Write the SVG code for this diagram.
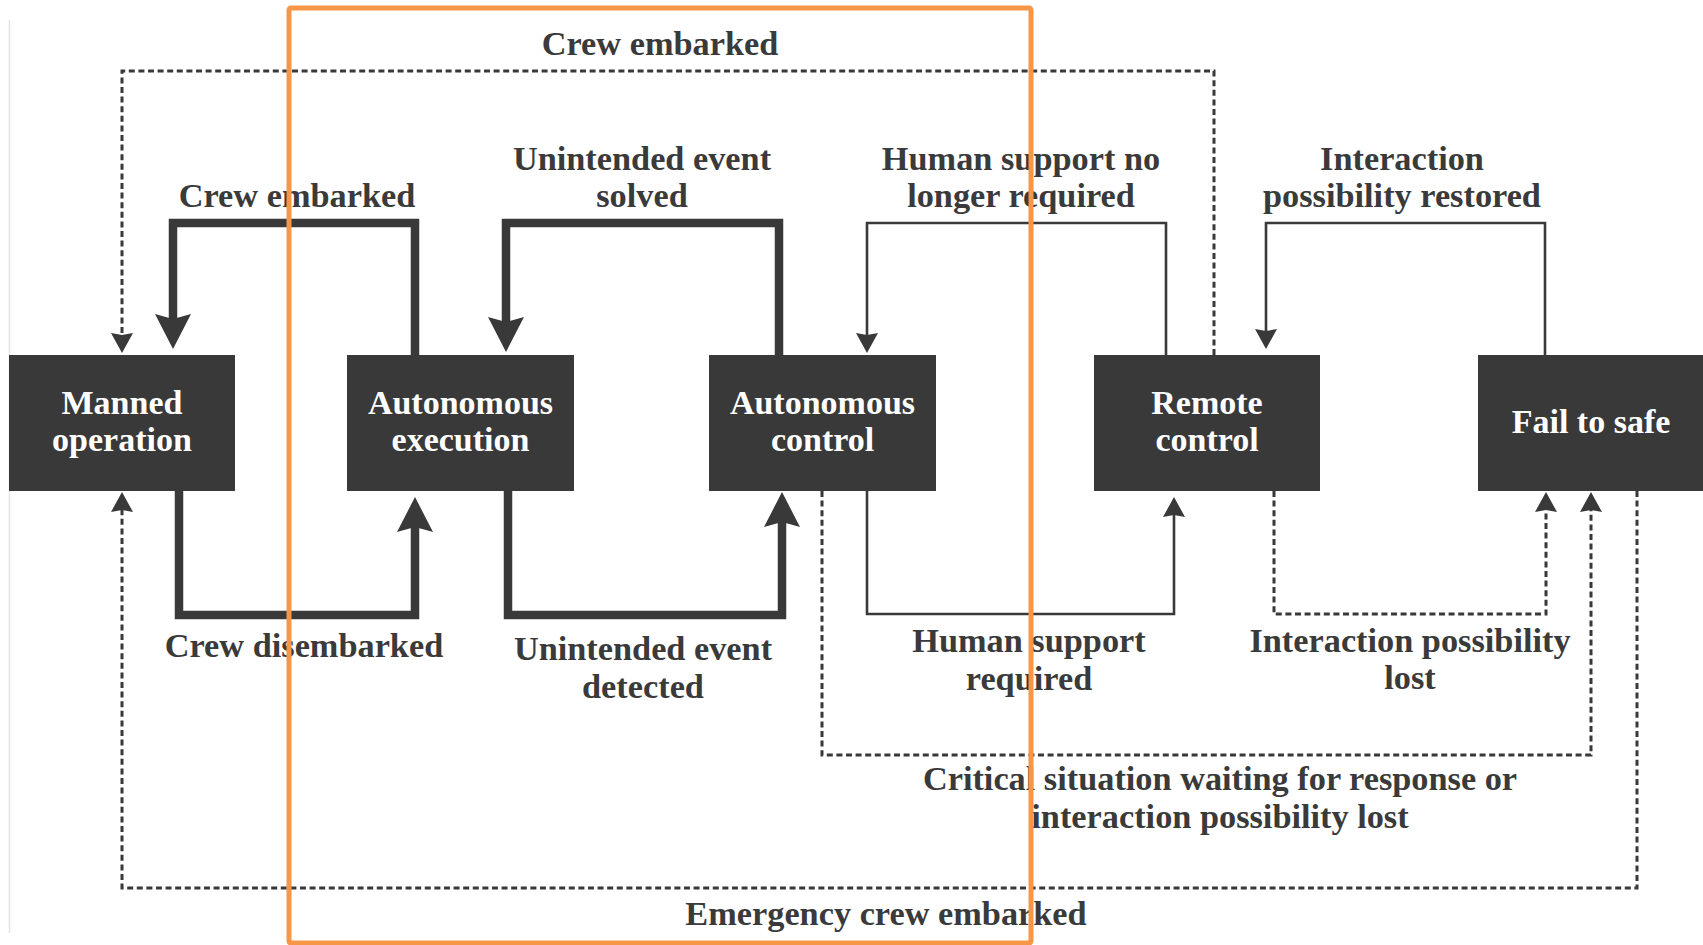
<svg xmlns="http://www.w3.org/2000/svg" width="1703" height="945" viewBox="0 0 1703 945">
<style>
.node rect{fill:#393939;}
.node text{fill:#ffffff;font-family:"Liberation Serif",serif;font-weight:bold;font-size:34px;text-anchor:middle;}
.lbl{fill:#3a3a3a;font-family:"Liberation Serif",serif;font-weight:bold;font-size:34.3px;text-anchor:middle;}
.thick{fill:none;stroke:#393939;stroke-width:8.5;stroke-linejoin:miter;}
.thin{fill:none;stroke:#393939;stroke-width:2.6;}
.dash{fill:none;stroke:#393939;stroke-width:3;stroke-dasharray:6 3.6;}
</style>
<defs>
<marker id="bigArrow" markerUnits="userSpaceOnUse" markerWidth="40" markerHeight="40" viewBox="0 -20 40 40" refX="15" refY="0" orient="auto" overflow="visible">
<path d="M0,-18 L35,0 L0,18 L5,0 Z" fill="#393939"/>
</marker>
<marker id="smallArrow" markerUnits="userSpaceOnUse" markerWidth="24" markerHeight="24" viewBox="0 -12 24 24" refX="10" refY="0" orient="auto" overflow="visible">
<path d="M0,-11 L20,0 L0,11 L2,0 Z" fill="#393939"/>
</marker>
</defs>
<rect x="0" y="0" width="1703" height="945" fill="#ffffff"/>
<line x1="9.5" y1="20" x2="9.5" y2="933" stroke="#e4e4e4" stroke-width="1.5"/>

<g id="connectors">
<path class="thick" d="M415,355 V223 H173 V329" marker-end="url(#bigArrow)"/>
<path class="thick" d="M779,355 V223 H506 V332" marker-end="url(#bigArrow)"/>
<path class="thick" d="M179,491 V615 H415 V517" marker-end="url(#bigArrow)"/>
<path class="thick" d="M508,491 V615 H782 V512" marker-end="url(#bigArrow)"/>
<path class="thin" d="M1166,355 V223 H867 V343" marker-end="url(#smallArrow)"/>
<path class="thin" d="M1545,355 V223 H1266 V339" marker-end="url(#smallArrow)"/>
<path class="thin" d="M867,491 V614 H1174 V507" marker-end="url(#smallArrow)"/>
<path class="dash" d="M1214,355 V71 H122 V343" marker-end="url(#smallArrow)"/>
<path class="dash" d="M1637,491 V888 H122 V502" marker-end="url(#smallArrow)"/>
<path class="dash" d="M822,491 V755 H1591 V502" marker-end="url(#smallArrow)"/>
<path class="dash" d="M1274,491 V614 H1546 V502" marker-end="url(#smallArrow)"/>
</g>

<g id="labels">
<text class="lbl" x="660" y="55">Crew embarked</text>
<text class="lbl" x="297" y="207">Crew embarked</text>
<text class="lbl" x="642" y="170">Unintended event</text>
<text class="lbl" x="642" y="207">solved</text>
<text class="lbl" x="1021" y="170">Human support no</text>
<text class="lbl" x="1021" y="207">longer required</text>
<text class="lbl" x="1402" y="170">Interaction</text>
<text class="lbl" x="1402" y="207">possibility restored</text>
<text class="lbl" x="304" y="657">Crew disembarked</text>
<text class="lbl" x="643" y="660">Unintended event</text>
<text class="lbl" x="643" y="698">detected</text>
<text class="lbl" x="1029" y="652">Human support</text>
<text class="lbl" x="1029" y="690">required</text>
<text class="lbl" x="1410" y="652">Interaction possibility</text>
<text class="lbl" x="1410" y="689">lost</text>
<text class="lbl" x="1220" y="790">Critical situation waiting for response or</text>
<text class="lbl" x="1220" y="828">interaction possibility lost</text>
<text class="lbl" x="886" y="925">Emergency crew embarked</text>
</g>

<g id="manned-operation" class="node">
<rect x="9" y="355" width="226" height="136"/>
<text x="122" y="414">Manned</text>
<text x="122" y="451">operation</text>
</g>
<g id="autonomous-execution" class="node">
<rect x="347" y="355" width="227" height="136"/>
<text x="460.5" y="414">Autonomous</text>
<text x="460.5" y="451">execution</text>
</g>
<g id="autonomous-control" class="node">
<rect x="709" y="355" width="227" height="136"/>
<text x="822.5" y="414">Autonomous</text>
<text x="822.5" y="451">control</text>
</g>
<g id="remote-control" class="node">
<rect x="1094" y="355" width="226" height="136"/>
<text x="1207" y="414">Remote</text>
<text x="1207" y="451">control</text>
</g>
<g id="fail-to-safe" class="node">
<rect x="1478" y="355" width="226" height="136"/>
<text x="1591" y="433">Fail to safe</text>
</g>

<g id="highlight">
<rect x="289" y="8" width="742" height="935" rx="2" fill="none" stroke="#f79646" stroke-width="5"/>
</g>
</svg>
